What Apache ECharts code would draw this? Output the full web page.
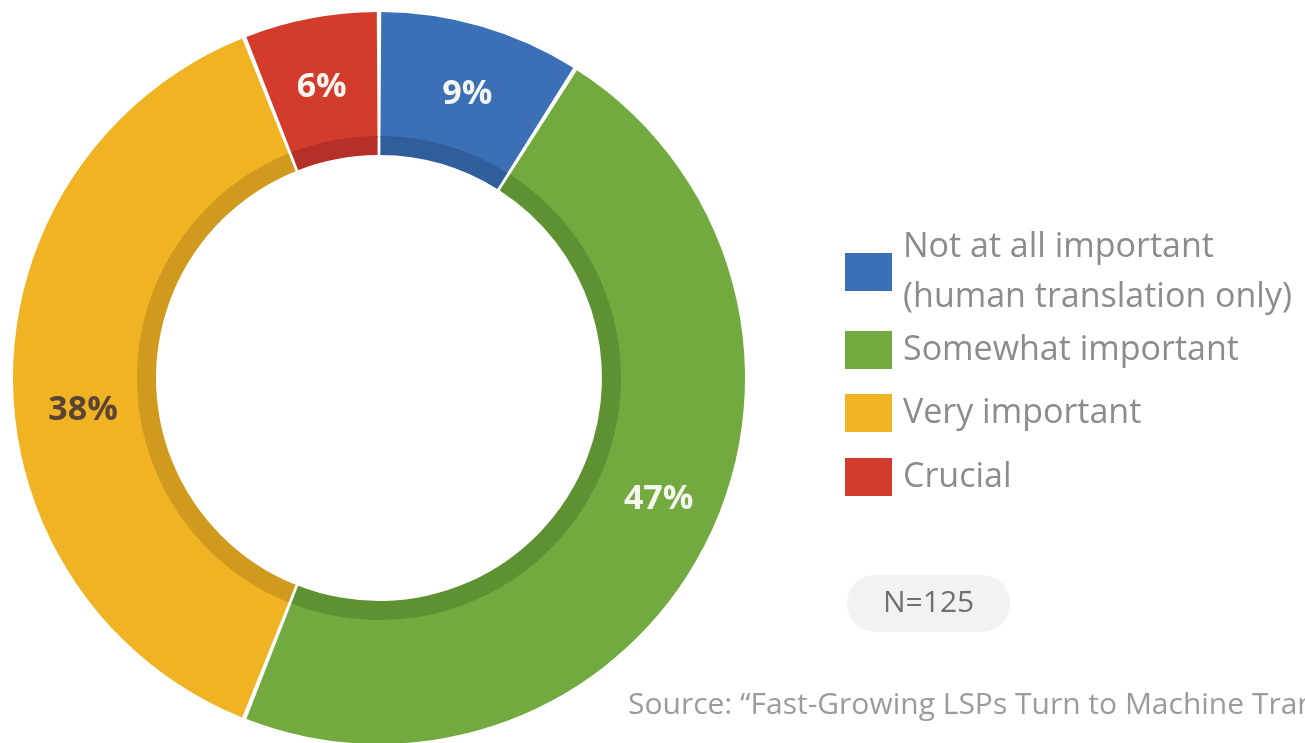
<!DOCTYPE html>
<html>
<head>
<meta charset="utf-8">
<script src="https://cdn.jsdelivr.net/npm/echarts@6/dist/echarts.min.js"></script>
<style>
html,body{margin:0;padding:0;background:#fff;}
#chart{width:1305px;height:743px;}
</style>
</head>
<body>
<div id="chart"></div>
<script>
const categories = ['Not at all important', 'Somewhat important', 'Very important', 'Crucial'];
const legendLabels = ['Not at all important\n(human translation only)', 'Somewhat important', 'Very important', 'Crucial'];
const values = [9, 47, 38, 6];
const colors = ['#3b6fb6', '#72aa3f', '#f0b323', '#d33b2c'];
const bandColors = ['#305d9b', '#5e9131', '#cf9a1e', '#b53127'];
const labelColors = ['#f6f6f0', '#f6f6f0', '#5b4433', '#f6f6f0'];
const sampleNote = 'N=125';
const sourceNote = 'Source: \u201cFast-Growing LSPs Turn to Machine Translation\u201d';

// label nudges (style only)
const labelOffsets = [[3, 10], [7, -18], [10, 32], [0, 10]];

const FONT = '"Open Sans", "DejaVu Sans", sans-serif';

const chart = echarts.init(document.getElementById('chart'), null, {renderer: 'canvas'});

const outerData = categories.map((c, i) => ({
  name: c, value: values[i],
  itemStyle: {color: colors[i]},
  label: {color: labelColors[i], offset: labelOffsets[i]}
}));
const bandData = categories.map((c, i) => ({
  name: c, value: values[i],
  itemStyle: {color: bandColors[i]}
}));

const legendTops = [222, 331, 394, 458];
const legends = categories.map((c, i) => ({
  data: [c],
  orient: 'vertical',
  left: 845,
  top: legendTops[i],
  padding: 0,
  itemWidth: 47,
  itemHeight: 38,
  itemGap: 0,
  icon: 'rect',
  selectedMode: false,
  formatter: () => legendLabels[i],
  textStyle: {
    fontFamily: FONT,
    fontSize: 34,
    color: '#8c8c8c',
    lineHeight: i === 0 ? 50 : 38,
    padding: [0, 0, 0, 6]
  }
}));

chart.setOption({
  animation: false,
  backgroundColor: '#ffffff',
  color: colors,
  title: [
    {
      text: sampleNote,
      left: 847, top: 575,
      padding: [13, 36],
      backgroundColor: '#f2f2f2',
      borderRadius: 28,
      textStyle: {fontFamily: FONT, fontSize: 30, fontWeight: 'normal', color: '#707070', lineHeight: 31}
    },
    {
      text: sourceNote,
      left: 628, top: 690,
      padding: 0,
      textStyle: {fontFamily: FONT, fontSize: 30, fontWeight: 'normal', color: '#9b9b9b', lineHeight: 30}
    }
  ],
  legend: legends,
  series: [
    {
      name: 'importance',
      type: 'pie',
      center: [379, 378],
      radius: [240, 366],
      startAngle: 90,
      clockwise: true,
      padAngle: 0.7,
      avoidLabelOverlap: false,
      silent: true,
      z: 2,
      label: {
        show: true,
        position: 'inside',
        formatter: '{c}%',
        fontFamily: FONT,
        fontSize: 34,
        fontWeight: 'bold'
      },
      labelLine: {show: false},
      data: outerData
    },
    {
      name: 'band',
      type: 'pie',
      center: [379, 378],
      radius: [223, 242],
      startAngle: 90,
      clockwise: true,
      padAngle: 0.7,
      silent: true,
      z: 3,
      label: {show: false},
      labelLine: {show: false},
      legendHoverLink: false,
      data: bandData
    }
  ]
});
</script>
</body>
</html>
